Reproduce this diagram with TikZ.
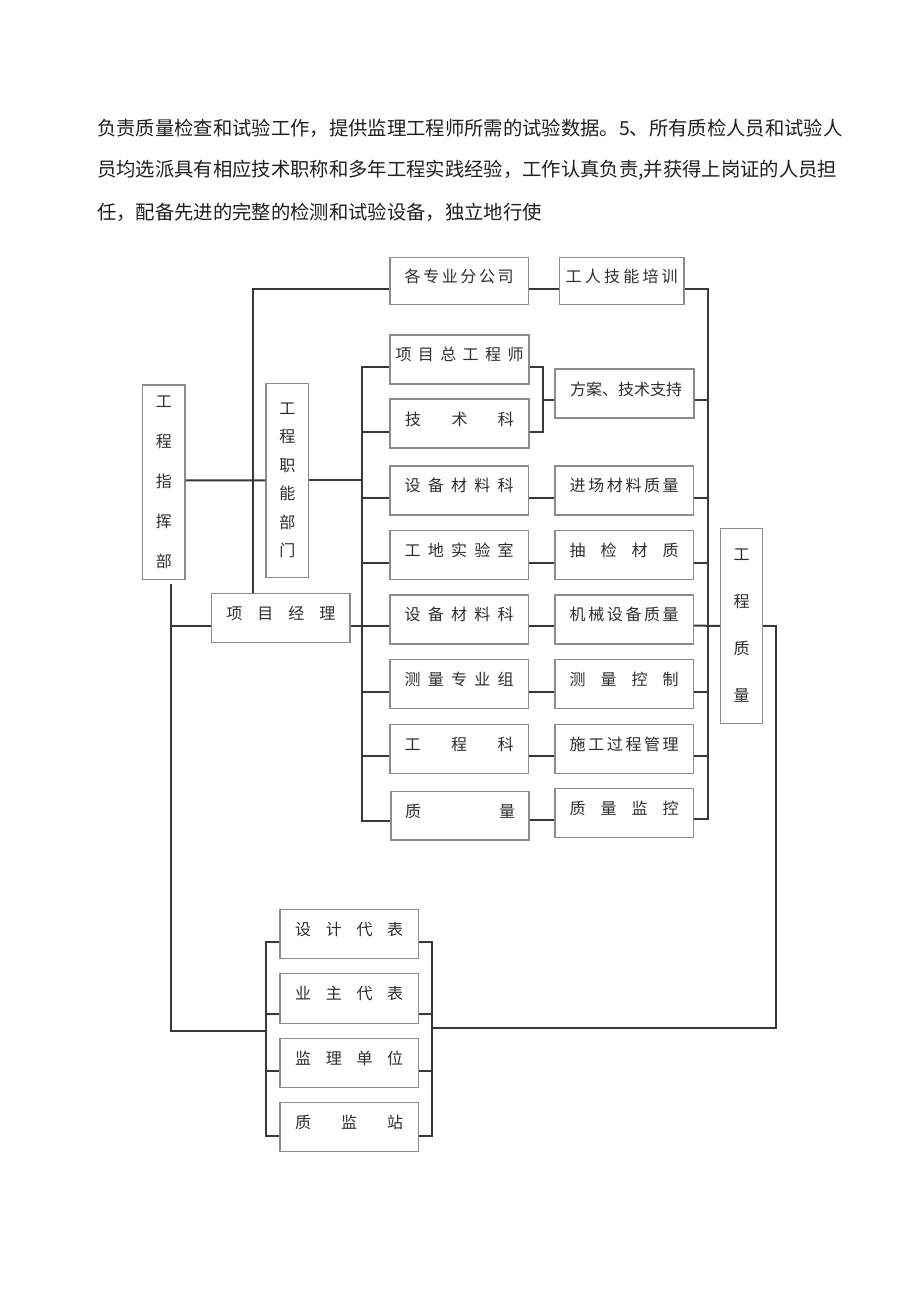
\documentclass[tikz,border=0pt]{standalone}
\usepackage{fontspec}
\setmainfont{Noto Sans CJK SC}
\usetikzlibrary{calc}
\newdimen\pu \pu=0.75pt
\definecolor{boxc}{HTML}{8C8C8C}
\definecolor{linec}{HTML}{383838}
\definecolor{txtc}{HTML}{2E2E2E}
\tikzset{
 hbox/.style={draw=boxc, fill=white, line width=1.1pt, text=txtc, inner sep=0pt,
   minimum width=138.3\pu, minimum height=49\pu,
   font=\fontsize{12pt}{14pt}\selectfont, text height=10pt, text depth=8pt},
 vbox/.style={draw=boxc, fill=white, line width=1.1pt, text=txtc, inner sep=0pt,
   minimum width=42.3\pu, minimum height=194.3\pu, align=center},
 conn/.style={draw=linec, line width=1.5pt, line join=miter},
 para/.style={anchor=west, inner sep=0pt, text=black!88, font=\fontsize{14.5pt}{17pt}\selectfont},
}
\newcommand{\sprd}[2][109]{\makebox[#1\pu][s]{#2}}
\begin{document}
\begin{tikzpicture}[x=0.75pt, y=-0.75pt]
\fill[white] (0,0) rectangle (920,1301);
\useasboundingbox (0,0) rectangle (920,1301);

% paragraph
\node[para] (p1) at (97,128) {负责质量检查和试验工作，提供监理工程师所需的试验数据。5、所有质检人员和试验人};
\node[para] (p2) at (97,170) {员均选派具有相应技术职称和多年工程实践经验，工作认真负责,并获得上岗证的人员担};
\node[para] (p3) at (97,212) {任，配备先进的完整的检测和试验设备，独立地行使};

% boxes
\node[hbox, minimum height=47\pu] (gz) at (459.2,280.8) {\sprd{各\hfill 专\hfill 业\hfill 分\hfill 公\hfill 司}};
\node[hbox, minimum width=124.7\pu, minimum height=47\pu] (gr) at (621.7,280.8) {\sprd[112]{工\hfill 人\hfill 技\hfill 能\hfill 培\hfill 训}};
\node[hbox, minimum width=139\pu] (xmz) at (459.5,359.5) {\sprd[128]{项\hfill 目\hfill 总\hfill 工\hfill 程\hfill 师}};
\node[hbox, minimum width=139\pu] (jsk) at (459.5,423.7) {\sprd{技\hfill 术\hfill 科}};
\node[hbox, minimum width=139\pu] (fa) at (624.5,393.7) {\sprd{方\hfill 案\hfill 、\hfill 技\hfill 术\hfill 支\hfill 持}};
\node[hbox] (sb1) at (459.2,490.5) {\sprd{设\hfill 备\hfill 材\hfill 料\hfill 科}};
\node[hbox] (jc) at (624.2,490.5) {\sprd{进\hfill 场\hfill 材\hfill 料\hfill 质\hfill 量}};
\node[hbox] (gd) at (459.2,554.9) {\sprd{工\hfill 地\hfill 实\hfill 验\hfill 室}};
\node[hbox] (cj) at (624.2,554.9) {\sprd{抽\hfill 检\hfill 材\hfill 质}};
\node[hbox] (sb2) at (459.2,619.5) {\sprd{设\hfill 备\hfill 材\hfill 料\hfill 科}};
\node[hbox] (jx) at (624.2,619.5) {\sprd{机\hfill 械\hfill 设\hfill 备\hfill 质\hfill 量}};
\node[hbox] (clz) at (459.2,683.8) {\sprd{测\hfill 量\hfill 专\hfill 业\hfill 组}};
\node[hbox] (clk) at (624.2,683.8) {\sprd{测\hfill 量\hfill 控\hfill 制}};
\node[hbox] (gck) at (459.2,748.8) {\sprd{工\hfill 程\hfill 科}};
\node[hbox] (sg) at (624.2,748.8) {\sprd{施\hfill 工\hfill 过\hfill 程\hfill 管\hfill 理}};
\node[hbox, minimum height=48.3\pu] (zl) at (460,815.9) {\sprd[110]{质\hfill 量}};
\node[hbox] (zljk) at (624.2,812.8) {\sprd{质\hfill 量\hfill 监\hfill 控}};
\node[vbox, font=\fontsize{12pt}{30pt}\selectfont] (zhb) at (163.9,482.2) {工\\程\\指\\挥\\部};
\node[vbox, minimum width=42.7\pu, minimum height=194\pu, font=\fontsize{12pt}{21.4pt}\selectfont] (znbm) at (287.4,480.3) {工\\程\\职\\能\\部\\门};
\node[hbox, minimum height=49.4\pu] (pm) at (280.9,618) {\sprd{项\hfill 目\hfill 经\hfill 理}};
\node[vbox, minimum width=42\pu, minimum height=195\pu, font=\fontsize{12pt}{35.2pt}\selectfont] (gczl) at (741.7,625.8) {工\\程\\质\\量};
\node[hbox] (sj) at (349.2,933.8) {\sprd[108]{设\hfill 计\hfill 代\hfill 表}};
\node[hbox, minimum height=50\pu] (yz) at (349.2,998.3) {\sprd[108]{业\hfill 主\hfill 代\hfill 表}};
\node[hbox] (jl) at (349.2,1062.8) {\sprd[108]{监\hfill 理\hfill 单\hfill 位}};
\node[hbox] (zjz) at (349.2,1126.8) {\sprd[108]{质\hfill 监\hfill 站}};

% connectors
\draw[conn] ($(gz.west)+(0,8.2)$) -| ($(pm.north west)+(41.6,0)$);
\draw[conn] ($(gz.east)+(0,8.2)$) -- ($(gr.west)+(0,8.2)$);
\draw[conn] ($(gr.east)+(0,8.2)$) -| ($(zljk.east)+(14,6.2)$) -- ($(zljk.east)+(0,6.2)$);
\draw[conn] ($(fa.east)+(0,6.3)$) -- ($(fa.east)+(13.3,6.3)$);
\foreach \n/\d in {jc/7, cj/7.8, clk/7.9, sg/6.9}
  \draw[conn] ($(\n.east)+(0,\d)$) -- ($(\n.east)+(14,\d)$);
\draw[conn] ($(jx.east)+(0,6.2)$) -- (gczl.west);

\draw[conn] ($(xmz.west)+(0,7.8)$) -| ($(zl.west)+(-28,5.1)$) -- ($(zl.west)+(0,5.1)$);
\foreach \n/\d in {jsk/8.6, sb1/7, gd/7.8, clz/7.9, gck/6.9}
  \draw[conn] ($(\n.west)+(0,\d)$) -- ($(\n.west)+(-27.6,\d)$);

\draw[conn] ($(sb1.east)+(0,7)$) -- ($(jc.west)+(0,7)$);
\draw[conn] ($(gd.east)+(0,7.8)$) -- ($(cj.west)+(0,7.8)$);
\draw[conn] ($(sb2.east)+(0,6.2)$) -- ($(jx.west)+(0,6.2)$);
\draw[conn] ($(clz.east)+(0,7.9)$) -- ($(clk.west)+(0,7.9)$);
\draw[conn] ($(gck.east)+(0,6.9)$) -- ($(sg.west)+(0,6.9)$);
\draw[conn] ($(zl.east)+(0,4.1)$) -- ($(zljk.west)+(0,7.2)$);

\draw[conn] ($(pm.east)+(0,7.7)$) -- ($(sb2.west)+(0,6.2)$);
\draw[conn] (znbm.east) -- ($(znbm.east)+(54,0)$);
\draw[conn] ($(zhb.east)+(0,-1.9)$) -- (znbm.west);

\draw[conn] ($(xmz.east)+(0,7.8)$) -| ($(jsk.east)+(13.3,8.6)$) -- ($(jsk.east)+(0,8.6)$);
\draw[conn] ($(fa.west)+(0,6.3)$) -- ($(fa.west)+(-12.7,6.3)$);

\draw[conn] ($(zhb.south)+(6.8,4)$) |- ($(yz.west)+(-13.3,32.4)$);
\draw[conn] ($(pm.west)+(0,7.7)$) -- ($(pm.west)+(-41,7.7)$);

\draw[conn] ($(sj.west)+(0,7.9)$) -| ($(zjz.west)+(-13.3,8.9)$) -- ($(zjz.west)+(0,8.9)$);
\draw[conn] ($(yz.west)+(0,16)$) -- ($(yz.west)+(-13.3,16)$);
\draw[conn] ($(jl.west)+(0,8.2)$) -- ($(jl.west)+(-13.3,8.2)$);
\draw[conn] ($(sj.east)+(0,7.9)$) -| ($(zjz.east)+(13.4,8.9)$) -- ($(zjz.east)+(0,8.9)$);
\draw[conn] ($(yz.east)+(0,16)$) -- ($(yz.east)+(13.4,16)$);
\draw[conn] ($(jl.east)+(0,8.2)$) -- ($(jl.east)+(13.4,8.2)$);
\draw[conn] (gczl.east) -- ($(gczl.east)+(13,0)$) |- ($(yz.east)+(13.4,30)$);
\end{tikzpicture}
\end{document}
